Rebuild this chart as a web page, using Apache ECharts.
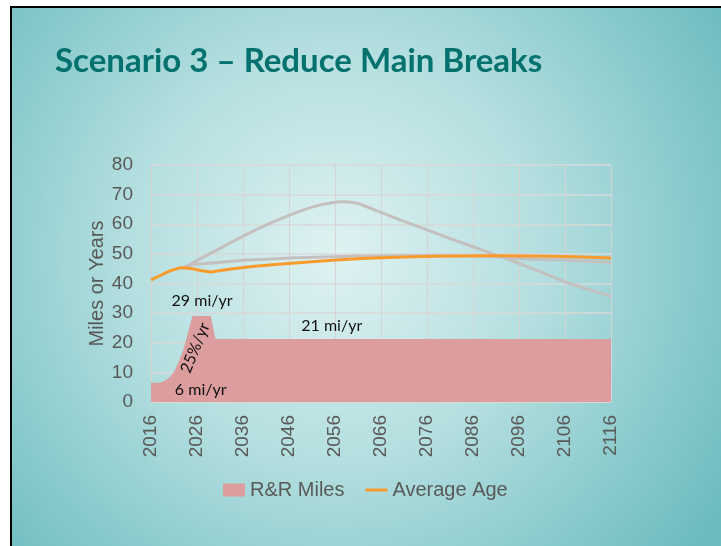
<!DOCTYPE html>
<html>
<head>
<meta charset="utf-8">
<script src="https://cdn.jsdelivr.net/npm/echarts@6/dist/echarts.min.js"></script>
<style>
html, body { margin: 0; padding: 0; background: #fff; }
#chart { width: 721px; height: 546px; }
</style>
</head>
<body>
<div id="chart"></div>
<script>
// years on the x axis start here (ticks every 10 years)
var baseYear = 2016;
var lastYear = 2116;

// R&R miles per year (stepped replacement schedule)
var rrMiles = [[2016, 6.5], [2018, 6.5], [2019, 7.2], [2020, 8.3], [2021, 10.1], [2022, 13.5],
    [2023, 17.5], [2024, 23], [2025, 29], [2029, 29], [2030, 21.3], [2116, 21.3]];

// average age of mains
var avgAge = [[2016, 41.2], [2018, 42.7], [2020, 44.2], [2022, 45.2], [2023, 45.3], [2025, 45.0],
    [2027, 44.3], [2029, 43.9], [2033, 44.8], [2038, 45.7], [2043, 46.4], [2048, 47.0],
    [2053, 47.6], [2058, 48.1], [2063, 48.5], [2068, 48.8], [2073, 49.0], [2078, 49.2],
    [2083, 49.3], [2088, 49.4], [2093, 49.4], [2098, 49.3], [2103, 49.2], [2108, 49.0],
    [2113, 48.8], [2116, 48.6]];

// other scenarios (grey, not in legend)
var ageNoAction = [[2023, 45.3], [2030, 51], [2036, 56], [2041, 59.7], [2046, 63],
    [2051, 65.8], [2055, 67.2], [2058, 67.6], [2061, 67], [2066, 64],
    [2071, 61], [2076, 58.1], [2081, 55.2], [2086, 52.4], [2091, 49.6], [2096, 46.8],
    [2101, 43.7], [2106, 40.6], [2111, 38], [2116, 35.7]];
var ageBaseline = [[2023, 45.3], [2025, 46.3], [2030, 47.0], [2037, 47.9], [2045, 48.5],
    [2051, 48.9], [2060, 49.2], [2070, 49.4], [2080, 49.4], [2090, 49.1], [2096, 48.4],
    [2106, 47.9], [2116, 47.1]];

// text notes on the chart: [year, value, text, rotation in degrees]
var notes = [[2027.1, 34.0, '29 mi/yr', 0], [2055.3, 25.6, '21 mi/yr', 0],
    [2026.8, 4.0, '6 mi/yr', 0], [2025.6, 18.3, '25%/yr', 68]];

function shift(arr) {
    return arr.map(function (p) { return [p[0] - baseYear, p[1]]; });
}

var myChart = echarts.init(document.getElementById('chart'));

var axisText = { fontFamily: 'Liberation Sans, Arial, sans-serif', fontSize: 19, color: '#595959' };

var option = {
    animation: false,
    graphic: [{
        type: 'rect',
        z: -100,
        silent: true,
        shape: { x: 11, y: 7, width: 720, height: 550 },
        style: {
            stroke: '#000',
            lineWidth: 2,
            fill: {
                type: 'radial', x: 0.45, y: 0.45, r: 0.85,
                colorStops: [
                    { offset: 0, color: '#e0f2f2' },
                    { offset: 0.45, color: '#b3dedf' },
                    { offset: 1, color: '#6abbbe' }
                ]
            }
        }
    }, {
        type: 'text',
        left: 55,
        top: 45,
        style: {
            text: 'Scenario 3 \u2013 Reduce Main Breaks',
            font: 'bold 33px Lato, "Open Sans", sans-serif',
            fill: '#03716d'
        }
    }],
    grid: {
        left: 151,
        right: 110,
        top: 165,
        bottom: 144
    },
    legend: {
        left: 223,
        top: 480,
        padding: 0,
        itemWidth: 22,
        itemHeight: 13,
        itemGap: 21,
        textStyle: { fontFamily: 'Liberation Sans, Arial, sans-serif', fontSize: 20, color: '#595959' },
        data: [
            { name: 'R&R Miles', icon: 'rect' },
            { name: 'Average Age', icon: 'path://M0,0L22,0L22,3L0,3Z' }
        ]
    },
    xAxis: {
        type: 'value',
        min: 0,
        max: lastYear - baseYear,
        interval: 10,
        axisLine: { show: true, lineStyle: { color: '#d9d9d9' } },
        axisTick: { show: false },
        splitLine: { show: true, lineStyle: { color: '#d4d4d4', width: 1 } },
        axisLabel: Object.assign({
            rotate: 90,
            margin: 13,
            formatter: function (v) { return String(v + baseYear); }
        }, axisText)
    },
    yAxis: {
        type: 'value',
        min: 0,
        max: 80,
        interval: 10,
        name: 'Miles or Years',
        nameLocation: 'middle',
        nameGap: 44,
        nameMoveOverlap: false,
        nameTextStyle: { fontFamily: 'Liberation Sans, Arial, sans-serif', fontSize: 20, color: '#595959' },
        axisLine: { show: false },
        axisTick: { show: false },
        splitLine: { show: true, lineStyle: { color: '#d9d9d9', width: 1.5 } },
        axisLabel: Object.assign({ margin: 18 }, axisText)
    },
    series: [{
        name: 'R&R Miles',
        type: 'line',
        data: shift(rrMiles),
        symbol: 'none',
        z: 1,
        itemStyle: { color: '#db9d9d' },
        lineStyle: { width: 0 },
        areaStyle: { color: '#db9d9d', opacity: 1 }
    }, {
        name: 'No Action',
        type: 'line',
        data: shift(ageNoAction),
        symbol: 'none',
        smooth: 0.25,
        z: 3,
        itemStyle: { color: '#c4c0c0' },
        lineStyle: { width: 3, color: '#c4c0c0' }
    }, {
        name: 'Baseline',
        type: 'line',
        data: shift(ageBaseline),
        symbol: 'none',
        smooth: 0.3,
        z: 3,
        itemStyle: { color: '#c4c0c0' },
        lineStyle: { width: 3, color: '#c4c0c0' }
    }, {
        name: 'Average Age',
        type: 'line',
        data: shift(avgAge),
        symbol: 'none',
        z: 4,
        itemStyle: { color: '#f99a2c' },
        lineStyle: { width: 3, color: '#f99a2c' }
    }]
};

myChart.setOption(option);

// place the notes using the chart's own scales
var noteEls = notes.map(function (n) {
    var px = myChart.convertToPixel({ gridIndex: 0 }, [n[0] - baseYear, n[1]]);
    return {
        type: 'text',
        x: px[0],
        y: px[1],
        rotation: n[3] * Math.PI / 180,
        z: 10,
        style: {
            text: n[2],
            font: '16px Lato, "Open Sans", sans-serif',
            fill: '#111',
            align: 'center',
            verticalAlign: 'middle'
        }
    };
});
myChart.setOption({ graphic: option.graphic.concat(noteEls) });
</script>
</body>
</html>
